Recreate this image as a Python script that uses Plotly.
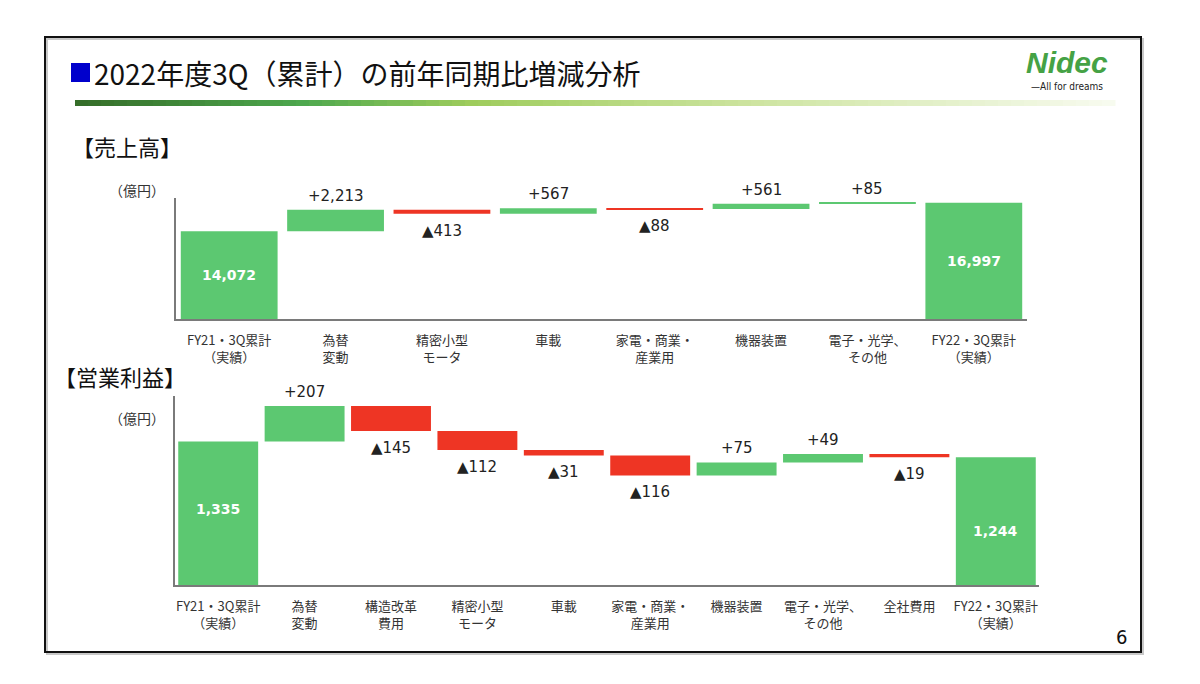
import plotly.graph_objects as go

# ---- data ----
sales_labels = ["FY21・3Q累計<br>（実績）", "為替<br>変動", "精密小型<br>モータ", "車載",
                "家電・商業・<br>産業用", "機器装置", "電子・光学、<br>その他", "FY22・3Q累計<br>（実績）"]
sales_values = [14072, 2213, -413, 567, -88, 561, 85, 16997]
sales_measure = ["absolute", "relative", "relative", "relative", "relative", "relative", "relative", "absolute"]

op_labels = ["FY21・3Q累計<br>（実績）", "為替<br>変動", "構造改革<br>費用", "精密小型<br>モータ", "車載",
             "家電・商業・<br>産業用", "機器装置", "電子・光学、<br>その他", "全社費用", "FY22・3Q累計<br>（実績）"]
op_values = [1335, 207, -145, -112, -31, -116, 75, 49, -19, 1244]
op_measure = ["absolute"] + ["relative"] * 8 + ["absolute"]

sales_range = [5000, 17500]
op_range = [500, 1600]

GREEN = "#5cc871"
RED = "#ee3524"
JP = "Noto Sans CJK JP"
NUM = "DejaVu Sans"

W, H = 1200, 684


def px(x):
    return x / W


def py(y):
    return 1 - y / H


fig = go.Figure()


def add_waterfall(labels, values, measures, xa, ya, bar_w):
    fig.add_trace(go.Waterfall(
        x=labels, y=values, measure=measures,
        increasing=dict(marker=dict(color=GREEN, line=dict(width=0))),
        decreasing=dict(marker=dict(color=RED, line=dict(width=0))),
        totals=dict(marker=dict(color=GREEN, line=dict(width=0))),
        connector=dict(visible=False), width=bar_w, cliponaxis=False,
        xaxis=xa, yaxis=ya, showlegend=False, hoverinfo="skip",
    ))


def add_labels(labels, values, measures, xa, ya, lo, total_nudge):
    level = 0
    k = 0
    for lab, v, m in zip(labels, values, measures):
        if m == "absolute":
            level = v
            fig.add_annotation(x=lab, y=(lo + v) / 2, xref=xa, yref=ya, showarrow=False,
                               yshift=total_nudge[k], text=f"<b>{v:,}</b>",
                               font=dict(family=NUM, size=14, color="white"))
            k += 1
            continue
        level += v
        if v >= 0:
            fig.add_annotation(x=lab, y=level, xref=xa, yref=ya, showarrow=False, yanchor="bottom",
                               yshift=3, text=f"+{v:,}", font=dict(family=NUM, size=15, color="#222"))
        else:
            fig.add_annotation(x=lab, y=level, xref=xa, yref=ya, showarrow=False, yanchor="top",
                               yshift=-6, text=f"▲{-v:,}", font=dict(family=NUM, size=15, color="#222"))


add_waterfall(sales_labels, sales_values, sales_measure, "x", "y", 0.91)
add_waterfall(op_labels, op_values, op_measure, "x2", "y2", 0.925)
add_labels(sales_labels, sales_values, sales_measure, "x", "y", sales_range[0], [0, 0])
add_labels(op_labels, op_values, op_measure, "x2", "y2", op_range[0], [4, -10])

axis_common = dict(showgrid=False, zeroline=False, showline=True, linecolor="#7a7a7a", linewidth=1.5,
                   fixedrange=True)

fig.update_layout(
    width=W, height=H, margin=dict(l=0, r=0, t=0, b=0),
    paper_bgcolor="white", plot_bgcolor="white",
    xaxis=dict(domain=[px(176), px(1027)], anchor="y", ticks="", ticklabelstandoff=9,
               tickfont=dict(family=JP, size=13, color="#333"), **axis_common),
    yaxis=dict(domain=[py(319), py(198)], anchor="x", range=sales_range, showticklabels=False,
               ticks="", **axis_common),
    xaxis2=dict(domain=[px(175), px(1039)], anchor="y2", ticks="", ticklabelstandoff=9,
                tickfont=dict(family=JP, size=13, color="#333"), **axis_common),
    yaxis2=dict(domain=[py(585), py(396)], anchor="x2", range=op_range, showticklabels=False,
                ticks="", **axis_common),
)

shapes = []
# slide frame with a faint shadow
shapes.append(dict(type="rect", xref="paper", yref="paper", x0=px(47), y0=py(654), x1=px(1143), y1=py(39),
                   line=dict(color="#c8c8c8", width=2)))
shapes.append(dict(type="rect", xref="paper", yref="paper", x0=px(45), y0=py(652), x1=px(1141), y1=py(37),
                   line=dict(color="#111", width=2), fillcolor="rgba(0,0,0,0)"))
# blue square of the title
shapes.append(dict(type="rect", xref="paper", yref="paper", x0=px(71), y0=py(82), x1=px(90), y1=py(63),
                   line=dict(width=0), fillcolor="#0000cc"))

# gradient rule under the title
stops = [(0.0, (52, 108, 40)), (0.22, (78, 168, 78)), (0.38, (158, 204, 92)),
         (0.65, (205, 228, 160)), (1.0, (248, 251, 240))]
n_seg = 80
x_start, x_end = 75, 1115
for i in range(n_seg):
    t = (i + 0.5) / n_seg
    for j in range(len(stops) - 1):
        if stops[j][0] <= t <= stops[j + 1][0]:
            a, ca = stops[j]
            b, cb = stops[j + 1]
            f = (t - a) / (b - a)
            c = tuple(round(ca[k] + (cb[k] - ca[k]) * f) for k in range(3))
            break
    x0 = x_start + (x_end - x_start) * i / n_seg
    x1 = x_start + (x_end - x_start) * (i + 1) / n_seg + 0.5
    shapes.append(dict(type="rect", xref="paper", yref="paper", x0=px(x0), x1=px(x1), y0=py(106), y1=py(100),
                       line=dict(width=0), fillcolor=f"rgb{c}"))
fig.update_layout(shapes=shapes)


def note(x, y, text, size, color="#111", anchor="left", family=JP):
    fig.add_annotation(x=px(x), y=py(y), xref="paper", yref="paper", text=text, showarrow=False,
                       xanchor=anchor, yanchor="middle", font=dict(family=family, size=size, color=color))


note(92, 73, "2022年度3Q（累計）の前年同期比増減分析", 28)
note(70, 146, "【売上高】", 22)
note(52, 376, "【営業利益】", 22)
note(167, 190, "（億円）", 14, color="#333", anchor="right")
note(167, 418, "（億円）", 14, color="#333", anchor="right")
note(1067, 62, "<b><i>Nidec</i></b>", 30, color="#45a245", anchor="center", family="Liberation Sans")
note(1067, 86, "—All for dreams", 10, color="#222", anchor="center", family="DejaVu Sans Condensed")
note(1121, 637, "6", 20, color="#111", anchor="center", family="DejaVu Sans Condensed")

# page body has a default margin; drop it so the figure sits at the window origin
fig.write_html("out.html", config={"displayModeBar": False},
               post_script="document.body.style.margin='0';")
